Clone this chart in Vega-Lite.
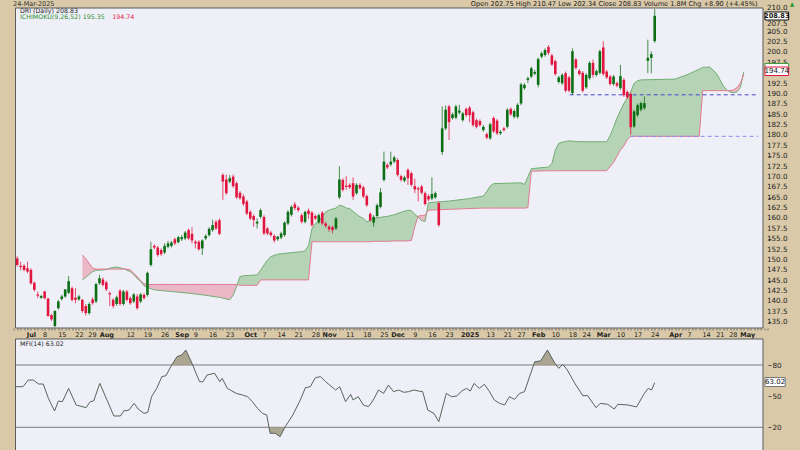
{
"$schema": "https://vega.github.io/schema/vega-lite/v6.json",
"width": 757.5, "height": 442,
"autosize": {"type": "none"},
"padding": {"left": 10.5, "top": 8, "right": 32, "bottom": 0},
"background": "#d9c9a8",
"config": {"font": "DejaVu Sans", "view": {"stroke": null, "fill": null}, "axis": {"grid": false, "domain": false, "labelFont": "DejaVu Sans", "labelOverlap": false, "labelBound": false, "labelFlush": false}},
"datasets": {
"notes": [{"k":"one","t":""},{"k":"date","t":"24-Mar-2025"},{"k":"hdr","t":"Open 202.75 High 210.47 Low 202.34 Close 208.83 Volume 1.8M Chg +8.90 (+4.45%)"},{"k":"tri","t":"▲"},{"k":"sym","t":"DRI (Daily) 208.83"},{"k":"ich","t":"ICHIMOKU(9,26,52) 195.35"},{"k":"ich2","t":"194.74"},{"k":"mfi","t":"MFI(14) 63.02"},{"k":"last","t":"208.83"},{"k":"lastb","t":"194.74"},{"k":"lastm","t":"63.02"}],
"pticks": [{"p":135,"t":"135.0","g":"m"},{"p":137.5,"t":"137.5","g":"m"},{"p":140,"t":"140.0","g":"m"},{"p":142.5,"t":"142.5","g":"m"},{"p":145,"t":"145.0","g":"m"},{"p":147.5,"t":"147.5","g":"m"},{"p":150,"t":"150.0","g":"m"},{"p":152.5,"t":"152.5","g":"m"},{"p":155,"t":"155.0","g":"m"},{"p":157.5,"t":"157.5","g":"m"},{"p":160,"t":"160.0","g":"m"},{"p":162.5,"t":"162.5","g":"m"},{"p":165,"t":"165.0","g":"m"},{"p":167.5,"t":"167.5","g":"m"},{"p":170,"t":"170.0","g":"m"},{"p":172.5,"t":"172.5","g":"m"},{"p":175,"t":"175.0","g":"m"},{"p":177.5,"t":"177.5","g":"m"},{"p":180,"t":"180.0","g":"m"},{"p":182.5,"t":"182.5","g":"m"},{"p":185,"t":"185.0","g":"m"},{"p":187.5,"t":"187.5","g":"m"},{"p":190,"t":"190.0","g":"m"},{"p":192.5,"t":"192.5","g":"m"},{"p":197.5,"t":"197.5","g":"m"},{"p":200,"t":"200.0","g":"m"},{"p":202.5,"t":"202.5","g":"m"},{"p":205,"t":"205.0","g":"m"},{"p":207.5,"t":"207.5","g":"lo"},{"p":210,"t":"210.0","g":"hi"}],
"candles": [
{"i":-4,"o":150.4,"h":150.9,"l":148.4,"c":148.8},{"i":-3,"o":148.6,"h":149.6,"l":147.5,"c":148.3},{"i":-2,"o":148.6,"h":149.0,"l":147.3,"c":147.6},{"i":-1,"o":148.0,"h":149.6,"l":146.8,"c":147.2},{"i":0,"o":147.6,"h":148.0,"l":144.0,"c":144.4},{"i":1,"o":144.5,"h":144.8,"l":142.4,"c":142.8},{"i":2,"o":141.7,"h":142.4,"l":140.8,"c":141.4},{"i":3,"o":140.9,"h":141.6,"l":140.6,"c":141.3},{"i":4,"o":142.4,"h":142.6,"l":140.5,"c":140.8},{"i":5,"o":140.7,"h":140.9,"l":136.3,"c":136.5},
{"i":6,"o":136.7,"h":137.0,"l":135.3,"c":135.7},{"i":7,"o":134.1,"h":137.9,"l":133.8,"c":137.7},{"i":8,"o":138.4,"h":140.4,"l":138.0,"c":140.0},{"i":9,"o":140.6,"h":141.6,"l":140.2,"c":141.2},{"i":10,"o":141.2,"h":143.0,"l":140.9,"c":142.9},{"i":11,"o":142.1,"h":146.1,"l":141.8,"c":144.9},{"i":12,"o":143.2,"h":143.6,"l":140.0,"c":140.4},{"i":13,"o":140.9,"h":143.2,"l":139.6,"c":140.4},{"i":14,"o":140.5,"h":141.6,"l":140.2,"c":141.2},{"i":15,"o":140.4,"h":140.6,"l":137.3,"c":137.7},
{"i":16,"o":138.9,"h":139.4,"l":136.6,"c":137.2},{"i":17,"o":137.2,"h":139.8,"l":136.8,"c":139.4},{"i":18,"o":140.5,"h":141.0,"l":139.2,"c":139.6},{"i":19,"o":140.0,"h":144.5,"l":139.6,"c":144.2},{"i":20,"o":144.4,"h":146.4,"l":144.0,"c":145.6},{"i":21,"o":145.3,"h":145.8,"l":143.6,"c":144.0},{"i":22,"o":144.6,"h":145.0,"l":142.5,"c":142.9},{"i":23,"o":142.0,"h":142.4,"l":138.9,"c":141.7},{"i":24,"o":140.4,"h":140.8,"l":138.4,"c":138.9},{"i":25,"o":139.4,"h":141.4,"l":139.0,"c":141.0},
{"i":26,"o":142.6,"h":143.0,"l":139.0,"c":139.4},{"i":27,"o":139.4,"h":142.8,"l":139.0,"c":142.4},{"i":28,"o":142.4,"h":142.8,"l":140.0,"c":140.4},{"i":29,"o":140.8,"h":141.2,"l":139.2,"c":139.6},{"i":30,"o":140.0,"h":142.0,"l":139.6,"c":141.7},{"i":31,"o":141.2,"h":141.8,"l":138.0,"c":138.4},{"i":32,"o":140.0,"h":142.0,"l":139.6,"c":141.7},{"i":33,"o":141.6,"h":142.0,"l":140.4,"c":140.8},{"i":34,"o":141.6,"h":147.2,"l":141.2,"c":146.9},{"i":35,"o":148.8,"h":154.4,"l":148.4,"c":152.6},
{"i":36,"o":153.4,"h":153.8,"l":152.6,"c":153.0},{"i":37,"o":153.0,"h":153.4,"l":150.8,"c":151.2},{"i":38,"o":152.4,"h":152.8,"l":151.0,"c":151.4},{"i":39,"o":151.8,"h":154.0,"l":151.4,"c":153.4},{"i":40,"o":153.2,"h":154.6,"l":152.8,"c":154.0},{"i":41,"o":153.4,"h":154.6,"l":153.0,"c":154.2},{"i":42,"o":155.0,"h":155.4,"l":153.6,"c":154.0},{"i":43,"o":154.3,"h":155.8,"l":154.0,"c":155.5},{"i":44,"o":155.0,"h":156.0,"l":154.6,"c":155.5},{"i":45,"o":155.2,"h":157.0,"l":154.8,"c":156.6},
{"i":46,"o":157.2,"h":157.6,"l":154.8,"c":155.2},{"i":47,"o":156.3,"h":157.9,"l":154.0,"c":154.7},{"i":48,"o":154.4,"h":154.8,"l":152.8,"c":154.0},{"i":49,"o":154.4,"h":154.8,"l":152.2,"c":152.6},{"i":50,"o":152.8,"h":155.0,"l":151.2,"c":154.7},{"i":51,"o":155.2,"h":156.2,"l":154.8,"c":155.8},{"i":52,"o":156.0,"h":157.9,"l":155.6,"c":157.5},{"i":53,"o":157.2,"h":159.7,"l":156.8,"c":158.4},{"i":54,"o":159.2,"h":159.6,"l":157.2,"c":157.6},{"i":55,"o":159.6,"h":160.0,"l":156.0,"c":156.3},
{"i":56,"o":170.5,"h":170.9,"l":164.5,"c":168.9},{"i":57,"o":169.4,"h":170.6,"l":165.7,"c":166.1},{"i":58,"o":168.9,"h":170.5,"l":168.5,"c":169.7},{"i":59,"o":170.1,"h":170.6,"l":167.4,"c":167.8},{"i":60,"o":168.5,"h":168.9,"l":164.7,"c":165.1},{"i":61,"o":166.2,"h":166.6,"l":164.5,"c":164.9},{"i":62,"o":165.3,"h":165.8,"l":163.0,"c":163.5},{"i":63,"o":164.1,"h":164.5,"l":160.8,"c":161.2},{"i":64,"o":161.6,"h":162.0,"l":159.6,"c":160.0},{"i":65,"o":160.6,"h":161.0,"l":158.0,"c":159.6},
{"i":66,"o":158.8,"h":160.0,"l":157.6,"c":159.2},{"i":67,"o":160.4,"h":162.4,"l":160.0,"c":162.0},{"i":68,"o":160.4,"h":160.8,"l":156.0,"c":156.4},{"i":69,"o":157.6,"h":158.0,"l":156.0,"c":156.4},{"i":70,"o":156.6,"h":157.0,"l":155.6,"c":156.0},{"i":71,"o":155.8,"h":156.2,"l":154.2,"c":154.7},{"i":72,"o":155.0,"h":155.8,"l":154.6,"c":155.6},{"i":73,"o":155.4,"h":156.8,"l":155.0,"c":156.4},{"i":74,"o":156.0,"h":159.3,"l":155.6,"c":159.0},{"i":75,"o":158.8,"h":162.0,"l":158.4,"c":161.6},
{"i":76,"o":160.9,"h":163.2,"l":160.5,"c":162.8},{"i":77,"o":163.4,"h":164.0,"l":162.0,"c":162.5},{"i":78,"o":162.6,"h":163.0,"l":161.6,"c":162.0},{"i":79,"o":160.8,"h":161.2,"l":158.8,"c":159.2},{"i":80,"o":159.2,"h":161.9,"l":158.8,"c":161.6},{"i":81,"o":161.9,"h":162.4,"l":159.9,"c":161.1},{"i":82,"o":161.4,"h":161.8,"l":158.0,"c":158.4},{"i":83,"o":160.6,"h":161.0,"l":159.6,"c":160.0},{"i":84,"o":159.1,"h":161.2,"l":158.7,"c":160.8},{"i":85,"o":161.4,"h":161.8,"l":158.4,"c":158.8},
{"i":86,"o":158.8,"h":159.2,"l":157.8,"c":158.2},{"i":87,"o":158.0,"h":158.4,"l":156.8,"c":157.4},{"i":88,"o":157.9,"h":158.3,"l":156.4,"c":157.2},{"i":89,"o":157.6,"h":160.4,"l":157.2,"c":160.0},{"i":90,"o":165.1,"h":172.6,"l":164.7,"c":169.4},{"i":91,"o":169.3,"h":169.7,"l":166.5,"c":166.9},{"i":92,"o":167.9,"h":170.2,"l":166.9,"c":167.6},{"i":93,"o":168.1,"h":168.5,"l":167.1,"c":167.5},{"i":94,"o":168.5,"h":169.9,"l":164.5,"c":165.3},{"i":95,"o":166.1,"h":168.5,"l":165.7,"c":168.1},
{"i":96,"o":168.1,"h":168.5,"l":166.9,"c":167.3},{"i":97,"o":167.5,"h":167.9,"l":164.9,"c":165.3},{"i":98,"o":165.4,"h":165.8,"l":162.8,"c":163.2},{"i":99,"o":161.1,"h":161.5,"l":159.2,"c":159.6},{"i":100,"o":159.0,"h":160.8,"l":158.0,"c":160.4},{"i":101,"o":160.6,"h":163.6,"l":160.2,"c":163.2},{"i":102,"o":162.8,"h":167.3,"l":162.4,"c":166.3},{"i":103,"o":169.3,"h":176.1,"l":168.9,"c":173.7},{"i":104,"o":172.9,"h":173.3,"l":171.9,"c":172.3},{"i":105,"o":173.0,"h":176.1,"l":172.6,"c":173.7},
{"i":106,"o":173.7,"h":175.1,"l":173.3,"c":174.7},{"i":107,"o":174.1,"h":174.5,"l":170.1,"c":170.5},{"i":108,"o":170.2,"h":170.6,"l":168.9,"c":169.3},{"i":109,"o":169.1,"h":170.3,"l":168.7,"c":169.9},{"i":110,"o":171.7,"h":172.1,"l":168.1,"c":169.7},{"i":111,"o":170.9,"h":171.3,"l":167.7,"c":168.1},{"i":112,"o":167.8,"h":169.6,"l":166.1,"c":167.0},{"i":113,"o":167.3,"h":167.7,"l":164.1,"c":167.0},{"i":114,"o":167.7,"h":168.1,"l":165.8,"c":166.2},{"i":115,"o":166.1,"h":166.5,"l":163.1,"c":163.5},
{"i":116,"o":165.4,"h":165.8,"l":164.2,"c":164.6},{"i":117,"o":164.8,"h":169.9,"l":164.4,"c":165.9},{"i":118,"o":165.1,"h":166.5,"l":164.7,"c":166.1},{"i":119,"o":163.7,"h":164.1,"l":158.0,"c":158.4},{"i":120,"o":176.0,"h":187.0,"l":175.3,"c":181.7},{"i":121,"o":181.7,"h":187.2,"l":181.3,"c":186.2},{"i":122,"o":187.0,"h":187.4,"l":178.9,"c":183.2},{"i":123,"o":184.2,"h":185.5,"l":183.8,"c":185.1},{"i":124,"o":184.3,"h":187.4,"l":183.9,"c":187.0},{"i":125,"o":185.5,"h":187.4,"l":185.1,"c":186.0},
{"i":126,"o":183.7,"h":185.7,"l":183.3,"c":185.3},{"i":127,"o":186.4,"h":186.8,"l":184.5,"c":184.9},{"i":128,"o":186.7,"h":187.1,"l":183.2,"c":184.9},{"i":129,"o":185.6,"h":186.0,"l":182.1,"c":182.5},{"i":130,"o":183.7,"h":184.1,"l":181.7,"c":182.1},{"i":131,"o":183.5,"h":183.9,"l":182.1,"c":182.5},{"i":132,"o":181.3,"h":182.5,"l":180.9,"c":182.1},{"i":133,"o":180.3,"h":180.7,"l":179.1,"c":179.5},{"i":134,"o":179.3,"h":183.1,"l":178.9,"c":182.7},{"i":135,"o":184.2,"h":184.6,"l":180.6,"c":181.0},
{"i":136,"o":183.6,"h":184.0,"l":180.1,"c":180.5},{"i":137,"o":180.5,"h":181.3,"l":180.1,"c":180.9},{"i":138,"o":181.7,"h":182.1,"l":180.9,"c":181.3},{"i":139,"o":182.1,"h":186.6,"l":181.7,"c":186.2},{"i":140,"o":186.4,"h":186.8,"l":184.7,"c":185.1},{"i":141,"o":184.5,"h":186.3,"l":184.1,"c":185.9},{"i":142,"o":184.5,"h":187.8,"l":184.1,"c":187.4},{"i":143,"o":187.7,"h":192.7,"l":187.3,"c":192.3},{"i":144,"o":191.4,"h":192.6,"l":191.0,"c":192.2},{"i":145,"o":193.4,"h":194.2,"l":192.6,"c":193.8},
{"i":146,"o":194.2,"h":196.6,"l":193.8,"c":196.2},{"i":147,"o":194.9,"h":195.8,"l":194.5,"c":195.3},{"i":148,"o":192.2,"h":198.8,"l":191.6,"c":198.4},{"i":149,"o":199.0,"h":200.2,"l":198.6,"c":199.8},{"i":150,"o":199.4,"h":201.0,"l":199.0,"c":200.6},{"i":151,"o":201.3,"h":201.8,"l":199.4,"c":199.9},{"i":152,"o":199.3,"h":199.7,"l":196.7,"c":197.1},{"i":153,"o":197.9,"h":198.3,"l":194.4,"c":194.8},{"i":154,"o":192.9,"h":194.4,"l":192.5,"c":194.0},{"i":155,"o":192.6,"h":195.0,"l":192.2,"c":194.6},
{"i":156,"o":195.0,"h":195.4,"l":190.4,"c":190.8},{"i":157,"o":194.0,"h":194.4,"l":190.4,"c":190.8},{"i":158,"o":190.2,"h":201.0,"l":189.8,"c":200.3},{"i":159,"o":198.3,"h":198.7,"l":195.9,"c":196.3},{"i":160,"o":195.6,"h":196.0,"l":194.4,"c":194.8},{"i":161,"o":195.1,"h":195.5,"l":190.4,"c":190.8},{"i":162,"o":191.6,"h":195.0,"l":191.2,"c":194.6},{"i":163,"o":193.8,"h":197.9,"l":193.4,"c":197.5},{"i":164,"o":197.5,"h":198.3,"l":193.9,"c":194.6},{"i":165,"o":194.6,"h":195.9,"l":194.2,"c":195.5},
{"i":166,"o":195.1,"h":200.7,"l":194.7,"c":200.3},{"i":167,"o":201.2,"h":202.7,"l":194.4,"c":194.8},{"i":168,"o":195.4,"h":195.8,"l":193.6,"c":194.0},{"i":169,"o":194.2,"h":194.6,"l":192.0,"c":192.4},{"i":170,"o":192.4,"h":194.6,"l":192.0,"c":194.2},{"i":171,"o":192.6,"h":193.0,"l":191.6,"c":192.0},{"i":172,"o":191.4,"h":197.0,"l":191.0,"c":194.3},{"i":173,"o":193.4,"h":193.8,"l":189.3,"c":189.7},{"i":174,"o":190.5,"h":190.9,"l":188.8,"c":189.2},{"i":175,"o":190.0,"h":190.4,"l":180.2,"c":182.0},
{"i":176,"o":182.2,"h":186.2,"l":181.8,"c":185.8},{"i":177,"o":184.9,"h":187.7,"l":184.5,"c":187.3},{"i":178,"o":186.2,"h":188.2,"l":185.8,"c":187.8},{"i":179,"o":186.6,"h":189.4,"l":186.2,"c":187.8},{"i":180,"o":198.0,"h":203.1,"l":195.0,"c":198.7},{"i":181,"o":198.7,"h":200.3,"l":195.0,"c":199.6},{"i":182,"o":202.75,"h":210.47,"l":202.34,"c":208.83}
],
"cloud": [
{"i":15,"a":145.2,"b":151.2,"s":1,"f":"dn"},{"i":16,"a":145.8,"b":150.3,"s":1,"f":"dn"},{"i":17,"a":146.5,"b":149.2,"s":1,"f":"dn"},{"i":18,"a":147.2,"b":148.0,"s":1,"f":"dn"},{"i":19,"a":147.5,"b":147.8,"s":1,"f":"dn"},{"i":21,"a":147.6,"b":147.8,"s":1,"f":"dn"},{"i":22.5,"a":147.8,"b":147.8,"s":1,"f":"dn"},
{"i":22.5,"a":147.8,"b":147.8,"s":2,"f":"up"},{"i":23,"a":148.0,"b":147.8,"s":2,"f":"up"},{"i":24,"a":148.2,"b":147.8,"s":2,"f":"up"},{"i":25,"a":148.3,"b":147.8,"s":2,"f":"up"},{"i":26,"a":148.1,"b":147.8,"s":2,"f":"up"},{"i":27,"a":147.9,"b":147.8,"s":2,"f":"up"},{"i":27.5,"a":147.8,"b":147.8,"s":2,"f":"up"},
{"i":27.5,"a":147.8,"b":147.8,"s":3,"f":"dn"},{"i":28,"a":147.5,"b":147.8,"s":3,"f":"dn"},{"i":29,"a":147.2,"b":147.6,"s":3,"f":"dn"},{"i":30,"a":146.4,"b":146.8,"s":3,"f":"dn"},{"i":31,"a":145.6,"b":146.0,"s":3,"f":"dn"},{"i":32,"a":144.8,"b":145.0,"s":3,"f":"dn"},{"i":33,"a":143.8,"b":144.3,"s":3,"f":"dn"},{"i":34,"a":143.4,"b":144.1,"s":3,"f":"dn"},{"i":36,"a":142.8,"b":144.1,"s":3,"f":"dn"},{"i":41,"a":142.4,"b":144.1,"s":3,"f":"dn"},{"i":46,"a":142.0,"b":144.1,"s":3,"f":"dn"},{"i":50,"a":141.6,"b":144.1,"s":3,"f":"dn"},{"i":55,"a":141.0,"b":144.1,"s":3,"f":"dn"},{"i":58,"a":140.4,"b":144.1,"s":3,"f":"dn"},{"i":59,"a":141.5,"b":144.1,"s":3,"f":"dn"},{"i":60,"a":143.6,"b":144.1,"s":3,"f":"dn"},{"i":60.2,"a":144.06,"b":144.06,"s":3,"f":"dn"},
{"i":60.2,"a":144.06,"b":144.06,"s":4,"f":"up"},{"i":61,"a":146.0,"b":143.9,"s":4,"f":"up"},{"i":62,"a":146.2,"b":143.9,"s":4,"f":"up"},{"i":66,"a":146.4,"b":143.9,"s":4,"f":"up"},{"i":67,"a":147.5,"b":145.2,"s":4,"f":"up"},{"i":68,"a":148.8,"b":145.2,"s":4,"f":"up"},{"i":69,"a":150.0,"b":145.2,"s":4,"f":"up"},{"i":70,"a":150.8,"b":145.2,"s":4,"f":"up"},{"i":72,"a":151.4,"b":145.2,"s":4,"f":"up"},{"i":74,"a":151.6,"b":145.2,"s":4,"f":"up"},{"i":79,"a":152.0,"b":145.2,"s":4,"f":"up"},{"i":80,"a":152.2,"b":145.2,"s":4,"f":"up"},{"i":81,"a":153.5,"b":145.2,"s":4,"f":"up"},{"i":82,"a":157.5,"b":154.4,"s":4,"f":"up"},{"i":83,"a":158.8,"b":154.4,"s":4,"f":"up"},{"i":84,"a":159.5,"b":154.4,"s":4,"f":"up"},{"i":85,"a":160.4,"b":154.4,"s":4,"f":"up"},{"i":86,"a":161.6,"b":154.4,"s":4,"f":"up"},{"i":87,"a":162.0,"b":154.4,"s":4,"f":"up"},{"i":88,"a":162.3,"b":154.4,"s":4,"f":"up"},{"i":89,"a":162.5,"b":154.4,"s":4,"f":"up"},{"i":90,"a":163.2,"b":154.4,"s":4,"f":"up"},{"i":91,"a":163.0,"b":154.4,"s":4,"f":"up"},{"i":92,"a":162.5,"b":154.4,"s":4,"f":"up"},{"i":93,"a":162.4,"b":154.4,"s":4,"f":"up"},{"i":94,"a":161.7,"b":154.4,"s":4,"f":"up"},{"i":95,"a":161.0,"b":154.4,"s":4,"f":"up"},{"i":96,"a":160.4,"b":154.4,"s":4,"f":"up"},{"i":97,"a":160.0,"b":154.4,"s":4,"f":"up"},{"i":98,"a":159.2,"b":154.4,"s":4,"f":"up"},{"i":99,"a":159.6,"b":154.4,"s":4,"f":"up"},{"i":100,"a":160.0,"b":154.5,"s":4,"f":"up"},{"i":102,"a":160.3,"b":154.5,"s":4,"f":"up"},{"i":104,"a":160.5,"b":154.5,"s":4,"f":"up"},{"i":106,"a":160.9,"b":154.6,"s":4,"f":"up"},{"i":108,"a":161.5,"b":154.6,"s":4,"f":"up"},{"i":110,"a":162.0,"b":154.6,"s":4,"f":"up"},{"i":111,"a":161.9,"b":154.7,"s":4,"f":"up"},{"i":112,"a":161.0,"b":158.0,"s":4,"f":"up"},{"i":112.9,"a":160.4,"b":160.4,"s":4,"f":"up"},
{"i":112.9,"a":160.4,"b":160.4,"s":5,"f":"dn"},{"i":113,"a":160.3,"b":160.6,"s":5,"f":"dn"},{"i":114,"a":159.5,"b":160.7,"s":5,"f":"dn"},{"i":115,"a":159.3,"b":160.8,"s":5,"f":"dn"},{"i":115.45,"a":161.35,"b":161.35,"s":5,"f":"dn"},
{"i":115.45,"a":161.35,"b":161.35,"s":6,"f":"up"},{"i":116,"a":163.8,"b":162.0,"s":6,"f":"up"},{"i":122,"a":164.2,"b":162.2,"s":6,"f":"up"},{"i":128,"a":164.8,"b":162.4,"s":6,"f":"up"},{"i":132,"a":165.4,"b":162.5,"s":6,"f":"up"},{"i":133,"a":166.5,"b":162.5,"s":6,"f":"up"},{"i":134,"a":167.8,"b":162.5,"s":6,"f":"up"},{"i":135,"a":168.4,"b":162.5,"s":6,"f":"up"},{"i":143,"a":168.6,"b":162.5,"s":6,"f":"up"},{"i":144,"a":168.2,"b":162.5,"s":6,"f":"up"},{"i":145,"a":170.0,"b":162.6,"s":6,"f":"up"},{"i":146,"a":172.0,"b":171.4,"s":6,"f":"up"},{"i":151,"a":172.4,"b":171.5,"s":6,"f":"up"},{"i":152,"a":173.2,"b":171.5,"s":6,"f":"up"},{"i":153,"a":176.5,"b":171.5,"s":6,"f":"up"},{"i":154,"a":178.1,"b":171.5,"s":6,"f":"up"},{"i":155,"a":178.4,"b":171.5,"s":6,"f":"up"},{"i":157,"a":178.7,"b":171.5,"s":6,"f":"up"},{"i":160,"a":178.5,"b":171.5,"s":6,"f":"up"},{"i":168,"a":178.5,"b":171.5,"s":6,"f":"up"},{"i":169,"a":180.0,"b":172.5,"s":6,"f":"up"},{"i":170,"a":182.0,"b":173.5,"s":6,"f":"up"},{"i":171,"a":184.2,"b":175.0,"s":6,"f":"up"},{"i":172,"a":186.0,"b":176.5,"s":6,"f":"up"},{"i":173,"a":187.7,"b":177.5,"s":6,"f":"up"},{"i":174,"a":189.0,"b":179.0,"s":6,"f":"up"},{"i":175,"a":190.5,"b":179.8,"s":6,"f":"up"},{"i":176,"a":192.6,"b":179.8,"s":6,"f":"up"},{"i":177,"a":193.2,"b":179.8,"s":6,"f":"up"},{"i":178,"a":193.4,"b":179.8,"s":6,"f":"up"},{"i":188,"a":193.6,"b":179.8,"s":6,"f":"up"},{"i":192,"a":194.8,"b":179.8,"s":6,"f":"up"},{"i":195,"a":196.0,"b":179.8,"s":6,"f":"up"},{"i":196,"a":196.4,"b":190.8,"s":6,"f":"up"},{"i":198,"a":196.5,"b":190.8,"s":6,"f":"up"},{"i":200,"a":195.0,"b":190.8,"s":6,"f":"up"},{"i":201,"a":193.5,"b":190.8,"s":6,"f":"up"},{"i":202,"a":192.0,"b":190.8,"s":6,"f":"up"},{"i":203,"a":191.0,"b":190.8,"s":6,"f":"up"},{"i":203.4,"a":190.8,"b":190.8,"s":6,"f":"up"},
{"i":203.4,"a":190.8,"b":190.8,"s":7,"f":"dn"},{"i":204,"a":190.5,"b":190.8,"s":7,"f":"dn"},{"i":205,"a":190.3,"b":191.0,"s":7,"f":"dn"},{"i":206,"a":190.5,"b":191.5,"s":7,"f":"dn"},{"i":207,"a":191.6,"b":192.6,"s":7,"f":"dn"},{"i":207.62,"a":193.9,"b":193.9,"s":7,"f":"dn"},
{"i":207.62,"a":193.9,"b":193.9,"s":8,"f":"up"},{"i":208,"a":195.35,"b":194.74,"s":8,"f":"up"}
],
"mfi": [
{"i":-4.5,"v":59.1},{"i":-2.3,"v":59.1},{"i":-0.8,"v":65.5},{"i":0.7,"v":65.5},{"i":2.2,"v":61.7},{"i":3.6,"v":61.7},{"i":5.1,"v":47.9},{"i":6.9,"v":35.7},{"i":8.0,"v":45.3},{"i":9.2,"v":44.7},{"i":11.0,"v":57.5},{"i":13.2,"v":41.5},{"i":16.1,"v":38.9},{"i":17.3,"v":44.7},{"i":18.3,"v":45.3},{"i":20.1,"v":62.3},{"i":24.2,"v":30.9},{"i":26.1,"v":30.9},{"i":27.1,"v":35.7},{"i":28.6,"v":36.6},{"i":30.1,"v":43.1},{"i":31.3,"v":37.6},{"i":33.0,"v":33.4},{"i":34.1,"v":34.4},{"i":35.2,"v":49.5},{"i":36.7,"v":57.5},{"i":38.2,"v":68.8},{"i":39.4,"v":69.7},{"i":40.8,"v":78.4},{"i":42.6,"v":88.0},{"i":44.0,"v":89.6},{"i":45.2,"v":94.4},{"i":47.0,"v":81.6},{"i":49.2,"v":63.9},{"i":50.2,"v":63.9},{"i":51.4,"v":70.4},{"i":53.6,"v":72.0},{"i":55.1,"v":63.9},{"i":55.8,"v":67.2},{"i":57.3,"v":57.5},{"i":59.9,"v":52.7},{"i":61.7,"v":51.1},{"i":63.2,"v":49.5},{"i":64.6,"v":44.7},{"i":66.1,"v":38.3},{"i":67.6,"v":33.4},{"i":68.8,"v":31.8},{"i":69.8,"v":14.2},{"i":71.3,"v":14.2},{"i":72.7,"v":11.0},{"i":74.2,"v":20.6},{"i":76.4,"v":31.8},{"i":78.6,"v":46.3},{"i":80.1,"v":58.2},{"i":81.5,"v":59.1},{"i":83.0,"v":67.8},{"i":84.5,"v":68.8},{"i":86.0,"v":63.9},{"i":88.9,"v":55.9},{"i":90.1,"v":59.1},{"i":91.8,"v":44.7},{"i":93.3,"v":51.7},{"i":94.0,"v":46.3},{"i":95.5,"v":49.5},{"i":97.0,"v":41.5},{"i":98.5,"v":39.9},{"i":99.9,"v":46.3},{"i":101.4,"v":55.9},{"i":102.9,"v":52.7},{"i":104.3,"v":60.7},{"i":105.8,"v":54.3},{"i":107.3,"v":55.9},{"i":108.8,"v":53.7},{"i":110.2,"v":54.3},{"i":111.7,"v":55.9},{"i":113.2,"v":54.9},{"i":114.3,"v":54.3},{"i":115.8,"v":36.6},{"i":117.6,"v":33.4},{"i":119.0,"v":25.4},{"i":121.2,"v":52.7},{"i":122.7,"v":49.5},{"i":124.2,"v":50.1},{"i":125.7,"v":54.9},{"i":127.1,"v":57.5},{"i":128.2,"v":54.9},{"i":129.3,"v":62.3},{"i":130.8,"v":57.5},{"i":132.3,"v":61.4},{"i":133.7,"v":54.9},{"i":135.2,"v":46.3},{"i":136.7,"v":43.1},{"i":138.2,"v":41.5},{"i":139.6,"v":49.5},{"i":141.1,"v":46.9},{"i":142.6,"v":52.7},{"i":144.0,"v":54.3},{"i":147.0,"v":83.2},{"i":148.7,"v":83.9},{"i":150.7,"v":94.4},{"i":152.9,"v":81.6},{"i":154.0,"v":76.8},{"i":155.2,"v":80.6},{"i":156.5,"v":75.2},{"i":158.7,"v":62.3},{"i":161.0,"v":50.5},{"i":162.4,"v":50.5},{"i":164.9,"v":38.9},{"i":166.1,"v":43.1},{"i":168.3,"v":42.1},{"i":170.2,"v":37.6},{"i":171.2,"v":42.1},{"i":174.2,"v":41.5},{"i":176.7,"v":39.6},{"i":179.0,"v":52.7},{"i":180.1,"v":57.5},{"i":181.1,"v":55.9},{"i":182.0,"v":63.02}
],
"mfiext": [
{"i":41.1,"v":80,"g":"ob"},{"i":42.6,"v":88.0,"g":"ob"},{"i":44.0,"v":89.6,"g":"ob"},{"i":45.2,"v":94.4,"g":"ob"},{"i":47.0,"v":81.6,"g":"ob"},{"i":47.2,"v":80,"g":"ob"},
{"i":146.67,"v":80,"g":"ob2"},{"i":147.0,"v":83.2,"g":"ob2"},{"i":148.7,"v":83.9,"g":"ob2"},{"i":150.7,"v":94.4,"g":"ob2"},{"i":152.9,"v":81.6,"g":"ob2"},{"i":153.27,"v":80,"g":"ob2"},
{"i":69.47,"v":20,"g":"os"},{"i":69.8,"v":14.2,"g":"os"},{"i":71.3,"v":14.2,"g":"os"},{"i":72.7,"v":11.0,"g":"os"},{"i":74.1,"v":20,"g":"os"}
]
},
"resolve": {"scale": {"y": "independent"}},
"layer": [
{
"layer": [
{"data": {"name": "notes"}, "transform": [{"filter": "datum.k == 'one'"}],
 "mark": {"type": "rect", "fill": "#eff0f7", "stroke": "#5a5a5a", "strokeWidth": 1},
 "encoding": {
  "x": {"datum": -4.5, "type": "quantitative", "scale": {"domain": [-4.5, 213.6], "nice": false, "zero": false}, "axis": {"title": null}},
  "x2": {"datum": 213.6},
  "y": {"datum": 133.61, "type": "quantitative", "scale": {"domain": [133.61, 210.72], "range": [320, 0], "nice": false, "zero": false}, "axis": {"title": null}},
  "y2": {"datum": 210.72}}},
{"data": {"name": "cloud"},
 "mark": {"type": "area", "opacity": 1},
 "encoding": {
  "x": {"field": "i", "type": "quantitative", "axis": {"title": null}},
  "y": {"field": "a", "type": "quantitative", "axis": {"title": null}},
  "y2": {"field": "b"},
  "detail": {"field": "s"},
  "color": {"field": "f", "type": "nominal", "scale": {"domain": ["up", "dn"], "range": ["#b5d4b6", "#ebb8c7"]}, "legend": null}}},
{"data": {"name": "cloud"},
 "mark": {"type": "line", "color": "#72ad74", "strokeWidth": 1},
 "encoding": {"x": {"field": "i", "type": "quantitative", "axis": {"title": null}}, "y": {"field": "a", "type": "quantitative", "axis": {"title": null}}}},
{"data": {"name": "cloud"},
 "mark": {"type": "line", "color": "#e27a94", "strokeWidth": 1},
 "encoding": {"x": {"field": "i", "type": "quantitative", "axis": {"title": null}}, "y": {"field": "b", "type": "quantitative", "axis": {"title": null}}}},
{"data": {"name": "notes"}, "transform": [{"filter": "datum.k == 'one'"}],
 "mark": {"type": "rule", "color": "#4848d0", "strokeWidth": 1, "strokeDash": [4, 3]},
 "encoding": {"x": {"datum": 157.2, "type": "quantitative", "axis": {"title": null}}, "x2": {"datum": 212.2}, "y": {"datum": 189.8, "type": "quantitative", "axis": {"title": null}}}},
{"data": {"name": "notes"}, "transform": [{"filter": "datum.k == 'one'"}],
 "mark": {"type": "rule", "color": "#8a8af0", "strokeWidth": 1, "strokeDash": [4, 3]},
 "encoding": {"x": {"datum": 175, "type": "quantitative", "axis": {"title": null}}, "x2": {"datum": 212.2}, "y": {"datum": 179.8, "type": "quantitative", "axis": {"title": null}}}},
{"data": {"name": "candles"},
 "mark": {"type": "rule", "strokeWidth": 1, "opacity": 0.75},
 "encoding": {
  "x": {"field": "i", "type": "quantitative", "axis": {"title": null}},
  "y": {"field": "l", "type": "quantitative", "axis": {"title": null}},
  "y2": {"field": "h"},
  "color": {"condition": {"test": "datum.c >= datum.o", "value": "#0b6e13"}, "value": "#e2153f"}}},
{"data": {"name": "candles"},
 "mark": {"type": "bar", "orient": "vertical", "size": 2.6},
 "encoding": {
  "x": {"field": "i", "type": "quantitative",
   "axis": {"orient": "bottom", "offset": -122, "title": null, "domain": false, "grid": false, "zindex": 1,
    "tickCount": 220, "tickSize": 2, "tickColor": "#6a6a6a", "tickWidth": 1,
    "labelOverlap": false, "labelBound": false, "labelFlush": false, "labelPadding": 1,
    "labelFontSize": 6.5, "labelColor": "#222", "labelFont": "DejaVu Sans",
    "labelExpr": "indexof([0,4,9,14,19,22,29,34,39,44,48,53,58,64,68,73,78,83,87,93,98,103,107,112,117,122,128,134,139,143,148,153,158,162,167,172,177,182,188,192,197,201,206,209], datum.value) >= 0 ? ['Jul','8','15','22','29','Aug','12','19','26','Sep','9','16','23','Oct','7','14','21','28','Nov','11','18','25','Dec','9','16','23','2025','13','21','27','Feb','10','18','24','Mar','10','17','24','Apr','7','14','21','28','May'][indexof([0,4,9,14,19,22,29,34,39,44,48,53,58,64,68,73,78,83,87,93,98,103,107,112,117,122,128,134,139,143,148,153,158,162,167,172,177,182,188,192,197,201,206,209], datum.value)] : ''",
    "labelAlign": {"condition": {"test": "datum.value == 19 || datum.value == 206", "value": "right"}, "value": "center"},
    "labelFontWeight": {"condition": {"test": "indexof([0,22,44,64,87,107,128,148,167,188,209], datum.value) >= 0", "value": "bold"}, "value": "normal"}}},
  "y": {"field": "o", "type": "quantitative",
   "axis": {"orient": "right", "title": null, "domain": false, "grid": false, "zindex": 0, "labels": false,
    "values": [135,137.5,140,142.5,145,147.5,150,152.5,155,157.5,160,162.5,165,167.5,170,172.5,175,177.5,180,182.5,185,187.5,190,192.5,195,197.5,200,202.5,205,207.5,210],
    "tickSize": 3, "tickColor": "#555"}},
  "y2": {"field": "c"},
  "color": {"condition": {"test": "datum.c >= datum.o", "value": "#0b6e13"}, "value": "#e2153f"}}},
{"data": {"name": "pticks"}, "transform": [{"filter": "datum.g == 'm'"}],
 "mark": {"type": "text", "align": "left", "baseline": "middle", "fontSize": 7.2, "color": "#222"},
 "encoding": {"x": {"datum": 214.74, "type": "quantitative", "axis": {"title": null}}, "y": {"field": "p", "type": "quantitative", "axis": {"title": null}}, "text": {"field": "t"}}},
{"data": {"name": "pticks"}, "transform": [{"filter": "datum.g == 'lo'"}],
 "mark": {"type": "text", "align": "left", "baseline": "middle", "fontSize": 7.2, "color": "#222", "dy": 2.5},
 "encoding": {"x": {"datum": 214.74, "type": "quantitative", "axis": {"title": null}}, "y": {"field": "p", "type": "quantitative", "axis": {"title": null}}, "text": {"field": "t"}}},
{"data": {"name": "pticks"}, "transform": [{"filter": "datum.g == 'hi'"}],
 "mark": {"type": "text", "align": "left", "baseline": "middle", "fontSize": 7.2, "color": "#222", "dy": -2.5},
 "encoding": {"x": {"datum": 214.74, "type": "quantitative", "axis": {"title": null}}, "y": {"field": "p", "type": "quantitative", "axis": {"title": null}}, "text": {"field": "t"}}},
{"data": {"name": "notes"}, "transform": [{"filter": "datum.k == 'date'"}],
 "mark": {"type": "text", "align": "left", "baseline": "alphabetic", "fontSize": 6.5, "color": "#333"},
 "encoding": {"x": {"datum": -5.2, "type": "quantitative", "axis": {"title": null}}, "y": {"datum": 211.32, "type": "quantitative", "axis": {"title": null}}, "text": {"field": "t"}}},
{"data": {"name": "notes"}, "transform": [{"filter": "datum.k == 'hdr'"}],
 "mark": {"type": "text", "align": "right", "baseline": "alphabetic", "fontSize": 6.6, "color": "#1a1a1a"},
 "encoding": {"x": {"datum": 212.0, "type": "quantitative", "axis": {"title": null}}, "y": {"datum": 211.32, "type": "quantitative", "axis": {"title": null}}, "text": {"field": "t"}}},
{"data": {"name": "notes"}, "transform": [{"filter": "datum.k == 'tri'"}],
 "mark": {"type": "text", "align": "center", "baseline": "alphabetic", "fontSize": 6, "color": "#2a9a2a"},
 "encoding": {"x": {"datum": 222.1, "type": "quantitative", "axis": {"title": null}}, "y": {"datum": 211.32, "type": "quantitative", "axis": {"title": null}}, "text": {"field": "t"}}},
{"data": {"name": "notes"}, "transform": [{"filter": "datum.k == 'sym'"}],
 "mark": {"type": "text", "align": "left", "baseline": "alphabetic", "fontSize": 6.3, "color": "#222"},
 "encoding": {"x": {"datum": -3.2, "type": "quantitative", "axis": {"title": null}}, "y": {"datum": 209.52, "type": "quantitative", "axis": {"title": null}}, "text": {"field": "t"}}},
{"data": {"name": "notes"}, "transform": [{"filter": "datum.k == 'ich'"}],
 "mark": {"type": "text", "align": "left", "baseline": "alphabetic", "fontSize": 6.3, "color": "#2e8b2e"},
 "encoding": {"x": {"datum": -3.2, "type": "quantitative", "axis": {"title": null}}, "y": {"datum": 207.95, "type": "quantitative", "axis": {"title": null}}, "text": {"field": "t"}}},
{"data": {"name": "notes"}, "transform": [{"filter": "datum.k == 'ich2'"}],
 "mark": {"type": "text", "align": "left", "baseline": "alphabetic", "fontSize": 6.3, "color": "#e2153f"},
 "encoding": {"x": {"datum": 23.7, "type": "quantitative", "axis": {"title": null}}, "y": {"datum": 207.95, "type": "quantitative", "axis": {"title": null}}, "text": {"field": "t"}}},
{"data": {"name": "notes"}, "transform": [{"filter": "datum.k == 'one'"}],
 "mark": {"type": "rect", "fill": "#ffffff", "stroke": "#3c9a3c", "strokeWidth": 1},
 "encoding": {"x": {"datum": 214.17, "type": "quantitative", "axis": {"title": null}}, "x2": {"datum": 221.08}, "y": {"datum": 197.35, "type": "quantitative", "axis": {"title": null}}, "y2": {"datum": 195.54}}},
{"data": {"name": "notes"}, "transform": [{"filter": "datum.k == 'one'"}],
 "mark": {"type": "rect", "fill": "#ffffff", "stroke": "#e2153f", "strokeWidth": 1},
 "encoding": {"x": {"datum": 214.17, "type": "quantitative", "axis": {"title": null}}, "x2": {"datum": 221.08}, "y": {"datum": 196.5, "type": "quantitative", "axis": {"title": null}}, "y2": {"datum": 194.45}}},
{"data": {"name": "notes"}, "transform": [{"filter": "datum.k == 'lastb'"}],
 "mark": {"type": "text", "align": "center", "baseline": "middle", "fontSize": 7, "color": "#111"},
 "encoding": {"x": {"datum": 217.63, "type": "quantitative", "axis": {"title": null}}, "y": {"datum": 195.48, "type": "quantitative", "axis": {"title": null}}, "text": {"field": "t"}}},
{"data": {"name": "notes"}, "transform": [{"filter": "datum.k == 'one'"}],
 "mark": {"type": "rect", "fill": "#ffffff", "stroke": "#111111", "strokeWidth": 1},
 "encoding": {"x": {"datum": 214.17, "type": "quantitative", "axis": {"title": null}}, "x2": {"datum": 221.08}, "y": {"datum": 209.76, "type": "quantitative", "axis": {"title": null}}, "y2": {"datum": 207.83}}},
{"data": {"name": "notes"}, "transform": [{"filter": "datum.k == 'last'"}],
 "mark": {"type": "text", "align": "center", "baseline": "middle", "fontSize": 6.6, "fontWeight": "bold", "color": "#111"},
 "encoding": {"x": {"datum": 217.63, "type": "quantitative", "axis": {"title": null}}, "y": {"datum": 208.8, "type": "quantitative", "axis": {"title": null}}, "text": {"field": "t"}}}
]
},
{
"layer": [
{"data": {"name": "notes"}, "transform": [{"filter": "datum.k == 'one'"}],
 "mark": {"type": "rect", "fill": "#eff0f7", "stroke": "#5a5a5a", "strokeWidth": 1},
 "encoding": {
  "x": {"datum": -4.5, "type": "quantitative", "axis": {"title": null}},
  "x2": {"datum": 213.6},
  "y": {"datum": -6, "type": "quantitative", "scale": {"domain": [-1.86, 105.04], "range": [442, 331], "nice": false, "zero": false}, "axis": {"title": null}},
  "y2": {"datum": 105.04}}},
{"data": {"name": "notes"}, "transform": [{"filter": "datum.k == 'one'"}],
 "mark": {"type": "rule", "color": "#7a7a7a", "strokeWidth": 1},
 "encoding": {"x": {"datum": -4.5, "type": "quantitative", "axis": {"title": null}}, "x2": {"datum": 213.6}, "y": {"datum": 80, "type": "quantitative", "axis": {"title": null}}}},
{"data": {"name": "notes"}, "transform": [{"filter": "datum.k == 'one'"}],
 "mark": {"type": "rule", "color": "#7a7a7a", "strokeWidth": 1},
 "encoding": {"x": {"datum": -4.5, "type": "quantitative", "axis": {"title": null}}, "x2": {"datum": 213.6}, "y": {"datum": 20, "type": "quantitative", "axis": {"title": null}}}},
{"data": {"name": "mfiext"}, "transform": [{"filter": "datum.g != 'os'"}],
 "mark": {"type": "area", "color": "#a39c86", "opacity": 0.9},
 "encoding": {"x": {"field": "i", "type": "quantitative", "axis": {"title": null}}, "y": {"field": "v", "type": "quantitative", "axis": {"title": null}}, "y2": {"datum": 80}, "detail": {"field": "g"}}},
{"data": {"name": "mfiext"}, "transform": [{"filter": "datum.g == 'os'"}],
 "mark": {"type": "area", "color": "#a39c86", "opacity": 0.9},
 "encoding": {"x": {"field": "i", "type": "quantitative", "axis": {"title": null}}, "y": {"field": "v", "type": "quantitative", "axis": {"title": null}}, "y2": {"datum": 20}}},
{"data": {"name": "mfi"},
 "mark": {"type": "line", "color": "#56655a", "strokeWidth": 1},
 "encoding": {
  "x": {"field": "i", "type": "quantitative", "axis": {"title": null}},
  "y": {"field": "v", "type": "quantitative",
   "axis": {"orient": "right", "title": null, "domain": false, "grid": false, "zindex": 0, "values": [20, 50, 80], "format": "d", "tickSize": 3, "tickColor": "#555", "labelPadding": 1, "labelFontSize": 7.2, "labelColor": "#222", "labelFont": "DejaVu Sans", "labelFlush": false, "labelBound": false, "labelOverlap": false}}}},
{"data": {"name": "notes"}, "transform": [{"filter": "datum.k == 'mfi'"}],
 "mark": {"type": "text", "align": "left", "baseline": "alphabetic", "fontSize": 6.3, "color": "#222"},
 "encoding": {"x": {"datum": -3.2, "type": "quantitative", "axis": {"title": null}}, "y": {"datum": 98.78, "type": "quantitative", "axis": {"title": null}}, "text": {"field": "t"}}},
{"data": {"name": "notes"}, "transform": [{"filter": "datum.k == 'one'"}],
 "mark": {"type": "rect", "fill": "#ffffff", "stroke": "#777777", "strokeWidth": 1},
 "encoding": {"x": {"datum": 214.17, "type": "quantitative", "axis": {"title": null}}, "x2": {"datum": 220.07}, "y": {"datum": 67.96, "type": "quantitative", "axis": {"title": null}}, "y2": {"datum": 59.29}}},
{"data": {"name": "notes"}, "transform": [{"filter": "datum.k == 'lastm'"}],
 "mark": {"type": "text", "align": "center", "baseline": "middle", "fontSize": 7, "color": "#111"},
 "encoding": {"x": {"datum": 217.12, "type": "quantitative", "axis": {"title": null}}, "y": {"datum": 63.6, "type": "quantitative", "axis": {"title": null}}, "text": {"field": "t"}}}
]
}
]
}
